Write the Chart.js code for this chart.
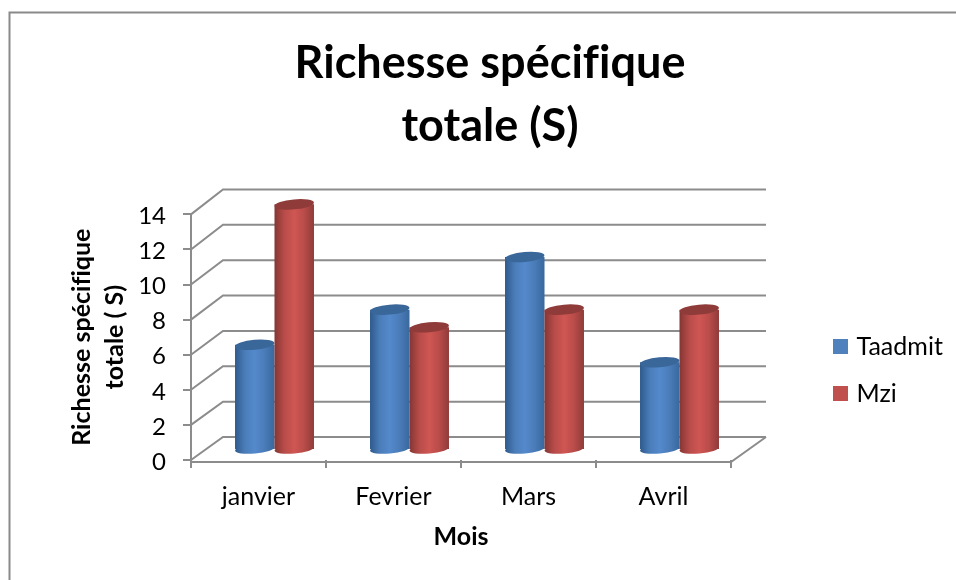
<!DOCTYPE html>
<html><head><meta charset="utf-8">
<style>html,body{margin:0;padding:0;background:#fff}canvas{display:block}</style>
<script src="https://cdn.jsdelivr.net/npm/chart.js@4"></script>
</head><body>
<canvas id="c" width="956" height="580"></canvas>
<script>
const categories = ["janvier", "Fevrier", "Mars", "Avril"];
const taadmit = [6, 8, 11, 5];
const mzi = [14, 7, 8, 8];
const yTicks = { min: 0, max: 14, step: 2 };
const titleLines = ["Richesse spécifique", "totale (S)"];
const yTitleLines = ["Richesse spécifique", "totale ( S)"];
const xTitle = "Mois";

const FONT = "Lato, Carlito, sans-serif";
const GRID = "#8c8c8c";
const CAT_PCT = 0.585;
const SHADES = [
  { flat: "#4F81BD", stops: ["#2f5a8c", "#4a7db9", "#5489cc", "#4a7cb8", "#39689e"], cap: "#3a6799" },
  { flat: "#C0504D", stops: ["#853634", "#b84c49", "#cf5653", "#b94c49", "#8f3b39"], cap: "#8e3b39" }
];

function cylinderFill(ctx) {
  const shade = SHADES[ctx.datasetIndex];
  if (ctx.dataIndex === undefined) return shade.flat;
  const sx = ctx.chart.scales.x;
  const half = (sx.width / categories.length) * CAT_PCT / 2;
  const c = sx.getPixelForValue(ctx.dataIndex);
  const l = ctx.datasetIndex === 0 ? c - half : c;
  if (!Number.isFinite(l) || !Number.isFinite(half) || half <= 0) return shade.flat;
  const g = ctx.chart.ctx.createLinearGradient(l, 0, l + half, 0);
  shade.stops.forEach((s, i) => g.addColorStop(i / (shade.stops.length - 1), s));
  return g;
}

function paintCylinders(chart, meta, index) {
  const { ctx } = chart;
  ctx.save();
  ctx.translate(16, -10);
  meta.data.forEach(el => {
    ctx.fillStyle = el.options.backgroundColor;
    ctx.beginPath();
    ctx.ellipse(el.x, el.base, el.width / 2, 4.5, -0.09, 0, Math.PI * 2);
    ctx.fill();
  });
  meta.controller.draw();
  meta.data.forEach(el => {
    ctx.fillStyle = SHADES[index].cap;
    ctx.beginPath();
    ctx.ellipse(el.x, el.y, el.width / 2, 5, -0.09, 0, Math.PI * 2);
    ctx.fill();
  });
  ctx.restore();
}

const depth3d = {
  id: "depth3d",
  beforeDraw(chart) {
    const { ctx, width, height } = chart;
    ctx.letterSpacing = "0.01px";
    ctx.save();
    ctx.fillStyle = "#fff";
    ctx.fillRect(0, 0, width, height);
    ctx.strokeStyle = "#8a8a8a";
    ctx.lineWidth = 2;
    ctx.beginPath();
    ctx.moveTo(9.5, height);
    ctx.lineTo(9.5, 12.5);
    ctx.lineTo(width, 12.5);
    ctx.stroke();
    ctx.restore();
  },
  afterLayout(chart) {
    const lg = chart.legend;
    lg.left = 815; lg.right = 956; lg.top = 312; lg.bottom = 575;
    const tb = chart.titleBlock;
    tb.left = 24; tb.right = 956;
  },
  beforeDatasetsDraw(chart) {
    const { ctx, chartArea: a, scales: { y } } = chart;
    ctx.save();
    ctx.strokeStyle = GRID;
    ctx.lineWidth = 2;
    ctx.lineJoin = "miter";
    const backL = a.left + 32, backR = a.right + 35;
    for (let v = yTicks.min; v <= yTicks.max; v += yTicks.step) {
      const p = y.getPixelForValue(v);
      const yb = a.bottom - 23 + (p - a.bottom) * 1.008;
      ctx.beginPath();
      ctx.moveTo(a.left, p);
      ctx.lineTo(backL, yb);
      ctx.lineTo(backR, yb);
      ctx.stroke();
    }
    // floor
    const fy = a.bottom + 2;
    ctx.beginPath();
    ctx.moveTo(a.left, fy);
    ctx.lineTo(a.right, fy);
    ctx.lineTo(backR, a.bottom - 23);
    ctx.stroke();
    ctx.restore();
  },
  beforeDatasetDraw(chart, args) {
    // Chart.js paints the last dataset first; the reference has Mzi in front of Taadmit.
    if (args.index === 0) {
      paintCylinders(chart, args.meta, 0);
      paintCylinders(chart, chart.getDatasetMeta(1), 1);
    }
    return false;
  }
};

new Chart(document.getElementById("c"), {
  type: "bar",
  plugins: [depth3d],
  data: {
    labels: categories,
    datasets: [
      { label: "Taadmit", data: taadmit, clip: false, backgroundColor: cylinderFill, borderWidth: 0 },
      { label: "Mzi", data: mzi, clip: false, backgroundColor: cylinderFill, borderWidth: 0 }
    ]
  },
  options: {
    responsive: false,
    animation: false,
    layout: { padding: { left: 24, right: 225, top: 32, bottom: 28 } },
    datasets: { bar: { categoryPercentage: CAT_PCT, barPercentage: 1 } },
    plugins: {
      tooltip: { enabled: false },
      title: {
        display: true,
        text: titleLines,
        color: "#000",
        font: { family: FONT, size: 45, weight: "bold", lineHeight: 1.404 },
        padding: { top: 0, bottom: 56 }
      },
      legend: {
        display: true,
        position: "chartArea",
        align: "start",
        padding: 0,
        labels: {
          color: "#000",
          boxWidth: 7,
          boxHeight: 7,
          padding: 22,
          font: { family: FONT, size: 25 },
          generateLabels(chart) {
            const items = Chart.defaults.plugins.legend.labels.generateLabels(chart);
            items.forEach(i => { i.fillStyle = SHADES[i.datasetIndex].flat; i.strokeStyle = SHADES[i.datasetIndex].flat; i.lineWidth = 8; });
            return items;
          }
        }
      }
    },
    scales: {
      x: {
        afterFit(s) { s.height = 92; },
        grid: { offset: true, drawOnChartArea: false, drawTicks: true, tickLength: 8, color: GRID, lineWidth: 2 },
        border: { display: false },
        ticks: { color: "#000", padding: 14, font: { family: FONT, size: 25 } },
        title: {
          display: true,
          text: xTitle,
          color: "#000",
          font: { family: FONT, size: 25, weight: "bold" },
          padding: { top: 12, bottom: 0 }
        }
      },
      y: {
        min: yTicks.min,
        max: yTicks.max,
        afterFit(s) { s.width = 167; },
        grid: { drawOnChartArea: false, tickLength: 8, color: GRID, lineWidth: 2 },
        border: { display: true, color: GRID, width: 2 },
        ticks: { stepSize: yTicks.step, color: "#000", padding: 17, labelOffset: 2, font: { family: FONT, size: 24 } },
        title: {
          display: true,
          text: yTitleLines,
          color: "#000",
          font: { family: FONT, size: 25, weight: "bold", lineHeight: 1.32 },
          padding: { top: 41, bottom: 0 }
        }
      }
    }
  }
});
</script>
</body></html>
